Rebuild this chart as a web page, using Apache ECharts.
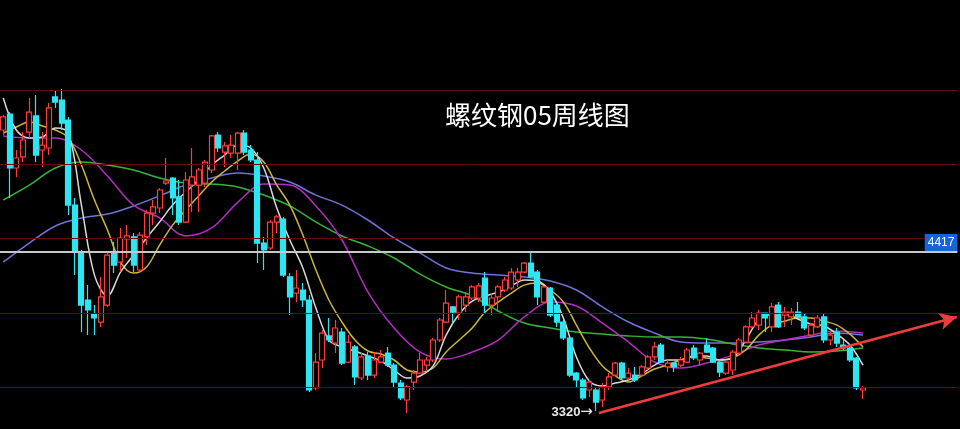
<!DOCTYPE html>
<html><head><meta charset="utf-8">
<script src="https://cdn.jsdelivr.net/npm/echarts@6/dist/echarts.min.js"></script>
<style>html,body{margin:0;padding:0;background:#000;}#c{width:960px;height:429px;}</style>
</head><body><div id="c"></div>
<script>
const N = 147;
const weeks = Array.from({length: N}, (_, i) => 'W' + (i + 1));

const opens = [5259,5369,4997,5073,5245,5356,5121,5135,5487,5466,
5328,4741,4417,4086,3989,3934,4051,4410,4348,4507,
4521,4293,4521,4686,4721,4893,4928,4797,4624,4879,
4879,4893,4983,5224,5107,5100,5100,5238,5121,5052,
4479,4445,4624,4645,4245,4134,4155,4086,3479,3672,
3838,3789,3865,3658,3762,3548,3700,3568,3658,3720,
3637,3513,3396,3520,3582,3637,3672,3810,3934,4038,
3996,4051,4100,4100,4238,4051,4107,4155,4169,4224,
4279,4341,4279,4072,4169,4051,3934,3824,3582,3534,
3465,3465,3396,3486,3568,3651,3548,3568,3568,3617,
3693,3775,3624,3651,3637,3658,3755,3672,3775,3755,
3658,3582,3603,3720,3796,3900,3913,3996,3900,4051,
3982,3969,4003,3969,3844,3900,3969,3810,3865,3775,
3755,3686,3465];
const closes = [5349,4997,5066,5190,5383,5086,5155,5411,5452,5307,
4741,4417,4051,4017,3962,4107,4396,4327,4514,4528,
4327,4534,4686,4728,4845,4907,4790,4624,4914,4935,
4983,5038,5218,5135,5149,5155,5238,5107,5052,4479,
4431,4624,4659,4258,4107,4169,4086,3465,3658,3858,
3810,3893,3651,3796,3555,3693,3568,3672,3693,3637,
3520,3410,3486,3582,3672,3672,3810,3948,4065,4003,
4107,4107,4176,4183,4051,4100,4176,4224,4279,4279,
4341,4245,4107,4176,3982,3934,3824,3568,3534,3410,
3520,3382,3486,3555,3651,3548,3582,3534,3624,3693,
3762,3658,3651,3624,3672,3741,3686,3720,3727,3658,
3589,3658,3727,3810,3900,3962,3996,3962,4038,3900,
4003,4003,3969,3893,3913,3962,3810,3844,3789,3755,
3672,3479,3479];
const lows = [5224,4790,4935,5038,5204,5038,5004,5086,5411,5259,
4672,4258,3865,3844,3844,3900,4038,4272,4279,4376,
4279,4279,4465,4603,4686,4879,4672,4603,4617,4693,
4693,4866,4962,5107,5004,5066,4983,5086,5038,4341,
4293,4431,4548,4245,3982,4072,4038,3451,3465,3617,
3796,3720,3637,3651,3499,3534,3534,3548,3651,3624,
3486,3396,3306,3465,3575,3603,3658,3796,3927,3934,
3948,4003,4086,4072,3996,3982,4003,4141,4155,4176,
4272,4238,4051,4065,3969,3900,3810,3555,3486,3396,
3417,3320,3348,3465,3555,3534,3534,3520,3555,3603,
3672,3651,3589,3589,3624,3651,3672,3637,3720,3651,
3555,3568,3568,3706,3789,3893,3879,3865,3865,3893,
3900,3913,3962,3879,3831,3893,3789,3775,3762,3741,
3658,3465,3403];
const highs = [5362,5383,5121,5245,5480,5501,5245,5445,5535,5542,
5349,4790,4431,4189,4051,4245,4417,4486,4583,4603,
4548,4555,4707,4776,4859,5066,4935,4914,4969,5135,
4997,5052,5224,5245,5176,5224,5245,5259,5155,5107,
4521,4638,4672,4659,4272,4293,4203,4120,3720,3879,
3962,3948,3893,3844,3775,3720,3727,3727,3741,3762,
3651,3534,3499,3603,3720,3693,3824,3962,4155,4045,
4120,4141,4189,4203,4279,4134,4189,4245,4307,4307,
4348,4417,4293,4176,4176,4065,3948,3831,3589,3548,
3534,3479,3513,3582,3658,3658,3617,3624,3637,3706,
3796,3789,3672,3658,3693,3755,3775,3727,3824,3762,
3672,3672,3741,3824,3913,4003,4017,3996,4065,4072,
4038,4031,4072,3996,3927,3982,3996,3865,3893,3810,
3775,3693,3493];

// moving-average lines at every 2nd / 4th week
const idxStep2 = Array.from({length: 67}, (_, i) => i * 2);
const idxStep4 = Array.from({length: 34}, (_, i) => i * 4);
const ma5 = [5480,5259,5204,5211,5273,5238,4741,4258,4114,4279,4396,4514,4624,4741,4831,4914,5017,5086,5155,5135,4997,4721,4500,4307,4031,3810,3762,3734,3700,3665,3603,3548,3562,3631,3844,3989,4079,4114,4141,4183,4224,4217,4141,3962,3693,3527,3493,3513,3534,3575,3637,3672,3672,3700,3700,3672,3686,3810,3948,3989,3996,3955,3920,3907,3851,3775,3637];
const ma10 = [5238,5280,5314,5287,5259,5204,5017,4776,4569,4348,4272,4314,4465,4603,4707,4804,4900,4976,5045,5093,5038,4879,4741,4534,4293,4086,3934,3810,3734,3713,3672,3603,3589,3617,3727,3810,3893,4003,4072,4134,4189,4203,4155,4072,3913,3755,3631,3562,3520,3562,3610,3637,3672,3693,3686,3672,3686,3741,3844,3913,3941,3962,3962,3941,3913,3851,3762];
const ma20 = [5218,5204,5204,5121,4942,4741,4652,4528,4583,4760,4886,4879,4735,4500,4141,3893,3727,3679,3727,3810,3969,4072,4045,3927,3796,3658,3617,3651,3706,3775,3810,3844,3872,3858];
const ma30 = [4776,4879,4997,5038,5017,4983,4928,4893,4886,4866,4810,4735,4624,4528,4459,4376,4265,4176,4114,4010,3927,3893,3865,3851,3838,3831,3831,3817,3782,3755,3741,3727,3734,3755];
const ma60 = [4348,4479,4597,4652,4679,4735,4804,4879,4928,4962,4942,4900,4810,4741,4638,4514,4410,4307,4272,4258,4245,4217,4155,4038,3934,3858,3796,3789,3789,3796,3810,3831,3858,3844];

const gridLevels = [5535, 5024, 4514, 3996, 3486];
const refLevel = 4417;
const lowWeek = 91, lowPrice = 3320;
const trendX = [91.45, 146.4];
const trendY = [3306, 3969];

const candleData = opens.map((o, i) => [o, closes[i], lows[i], highs[i]]);
function pairs(idx, vals) { return idx.map((k, i) => [k, vals[i]]); }
function maSeries(name, idx, vals, color) {
  return {type: 'line', name, data: pairs(idx, vals), smooth: 0.35, symbol: 'none',
    lineStyle: {color, width: 1.5}, z: 3, silent: true};
}

const chart = echarts.init(document.getElementById('c'), null, {renderer: 'canvas'});
chart.setOption({
  backgroundColor: '#000',
  animation: false,
  grid: {left: -2.5, right: 2.6, top: 0, bottom: 0},
  xAxis: [
    {type: 'category', data: weeks, boundaryGap: true, show: false},
    {type: 'value', min: -0.5, max: N - 0.5, show: false}
  ],
  yAxis: {type: 'value', min: 3196, max: 6156, show: false, splitLine: {show: false}},
  graphic: [{
    type: 'text', left: 445, top: 102,
    style: {text: '螺纹钢05周线图', fill: '#ffffff', font: '26px "Noto Sans CJK SC"'}
  }],
  series: [
    {type: 'line', name: 'grid', data: [], z: 1, silent: true,
      markLine: {silent: true, symbol: 'none', label: {show: false},
        lineStyle: {color: '#640c0c', width: 1, type: 'solid'},
        data: gridLevels.map(v => ({yAxis: v}))}},
    {type: 'line', name: 'ref', data: [], z: 2, silent: true,
      markLine: {silent: true, symbol: 'none',
        lineStyle: {color: '#c8c8c8', width: 2, type: 'solid'},
        label: {show: true, position: 'insideEndTop', formatter: String(refLevel), color: '#fff',
          backgroundColor: '#1763d9', padding: [3, 3, 2, 3], fontSize: 12, fontFamily: 'Arial', distance: [0, 1]},
        data: [{yAxis: refLevel}]}},
    maSeries('MA60', idxStep4, ma60, '#7272d6'),
    maSeries('MA30', idxStep4, ma30, '#35b535'),
    maSeries('MA20', idxStep4, ma20, '#b42cc0'),
    maSeries('MA10', idxStep2, ma10, '#cdb53c'),
    maSeries('MA5', idxStep2, ma5, '#d8d8d8'),
    {type: 'candlestick', name: 'K', data: candleData, barWidth: 5.5, z: 4,
      itemStyle: {color: '#000', borderColor: '#ff3c3c', color0: '#2ee6f2', borderColor0: '#2ee6f2', borderWidth: 1.2},
      markPoint: {symbol: 'circle', symbolSize: 0, silent: true,
        data: [{coord: [lowWeek, lowPrice],
          label: {show: true, position: 'left', distance: 0, offset: [-3, 1], formatter: '{a|' + lowPrice + '}{b|→}',
            rich: {
              a: {color: '#e8e8e8', fontSize: 13, fontWeight: 'bold', fontFamily: 'Arial'},
              b: {color: '#e8e8e8', fontSize: 15, fontFamily: 'DejaVu Sans'}
            }}}]}},
    {type: 'line', name: 'trend', xAxisIndex: 1, data: [], z: 5, silent: true,
      markLine: {silent: true, symbol: ['none', 'arrow'], symbolSize: [13, 17],
        lineStyle: {color: '#f03c3c', width: 2.5, type: 'solid'}, label: {show: false},
        data: [[{coord: [trendX[0], trendY[0]]}, {coord: [trendX[1], trendY[1]]}]]}}
  ]
});
</script>
</body></html>
